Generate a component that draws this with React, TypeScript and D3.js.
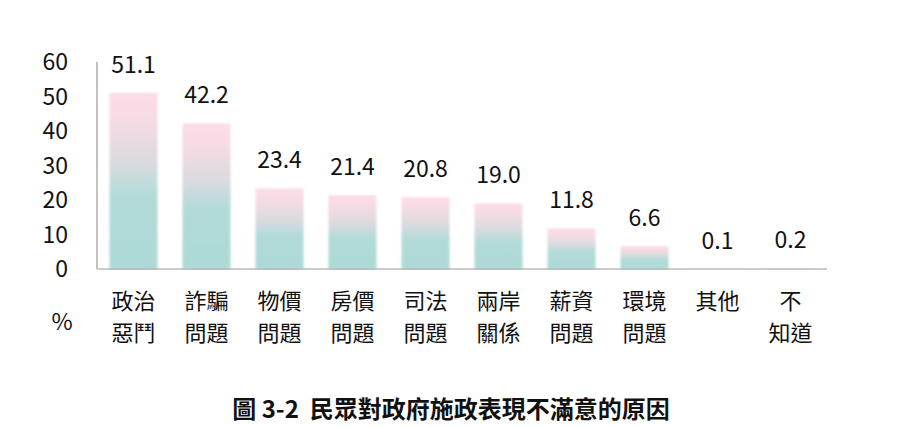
import React from "react";
import * as d3 from "d3";

const categories: string[][] = [
  ["政治", "惡鬥"],
  ["詐騙", "問題"],
  ["物價", "問題"],
  ["房價", "問題"],
  ["司法", "問題"],
  ["兩岸", "關係"],
  ["薪資", "問題"],
  ["環境", "問題"],
  ["其他"],
  ["不", "知道"],
];
const values: number[] = [51.1, 42.2, 23.4, 21.4, 20.8, 19.0, 11.8, 6.6, 0.1, 0.2];
const yTicks: number[] = [0, 10, 20, 30, 40, 50, 60];
const title = "圖 3-2  民眾對政府施政表現不滿意的原因";

const W = 915;
const H = 428;
const FONT = "'Noto Sans CJK TC', 'Noto Sans', sans-serif";

export default function App() {
  const x = d3
    .scaleBand<number>()
    .domain(d3.range(values.length))
    .range([97, 827])
    .paddingInner(25 / 73)
    .paddingOuter(12.5 / 73);
  const y = d3.scaleLinear().domain([0, 60]).range([269, 62]);

  return (
    <div style={{ position: "absolute", left: 0, top: 0 }}>
      <svg width={W} height={H} style={{ display: "block", background: "#fff" }}>
        <defs>
          <linearGradient id="barGrad" x1="0" y1="0" x2="0" y2="1">
            <stop offset="0%" stopColor="#fcdce7" />
            <stop offset="15%" stopColor="#f6dbe4" />
            <stop offset="40%" stopColor="#d9dadf" />
            <stop offset="58%" stopColor="#b3dbd8" />
            <stop offset="100%" stopColor="#acd9d6" />
          </linearGradient>
          <filter id="soft" x="-10%" y="-10%" width="120%" height="120%">
            <feGaussianBlur stdDeviation="1" />
          </filter>
        </defs>
        {/* y tick labels */}
        {yTicks.map((t) => (
          <text
            key={t}
            x={68}
            y={y(t)}
            dy="0.36em"
            textAnchor="end"
            fontFamily={FONT}
            fontSize={23}
            fill="#111"
          >
            {t}
          </text>
        ))}
        {/* bars */}
        {values.map((v, i) => (
          <rect
            key={i}
            x={x(i)!}
            y={y(v)}
            width={x.bandwidth()}
            height={y(0) - y(v)}
            fill="url(#barGrad)"
            filter="url(#soft)"
          />
        ))}
        {/* axes */}
        <line x1={97} x2={97} y1={62} y2={269} stroke="#999" strokeWidth={1.2} />
        <line x1={97} x2={827} y1={269} y2={269} stroke="#999" strokeWidth={1.2} />
        {/* value labels */}
        {values.map((v, i) => (
          <text
            key={i}
            x={x(i)! + x.bandwidth() / 2}
            y={y(v) - 20}
            textAnchor="middle"
            fontFamily={FONT}
            fontSize={23}
            fill="#111"
          >
            {d3.format(".1f")(v)}
          </text>
        ))}
        {/* category labels */}
        {categories.map((lines, i) =>
          lines.map((ln, j) => (
            <text
              key={i + "-" + j}
              x={x(i)! + x.bandwidth() / 2}
              y={309 + j * 32}
              textAnchor="middle"
              fontFamily={FONT}
              fontSize={22}
              fill="#111"
            >
              {ln}
            </text>
          ))
        )}
        <text x={62} y={330} textAnchor="middle" fontFamily={FONT} fontSize={23} fill="#111">
          %
        </text>
        <text
          x={451}
          y={418}
          textAnchor="middle"
          fontFamily={FONT}
          fontSize={24}
          fontWeight="bold"
          fill="#111"
          style={{ whiteSpace: "pre" }}
        >
          {title}
        </text>
      </svg>
    </div>
  );
}
